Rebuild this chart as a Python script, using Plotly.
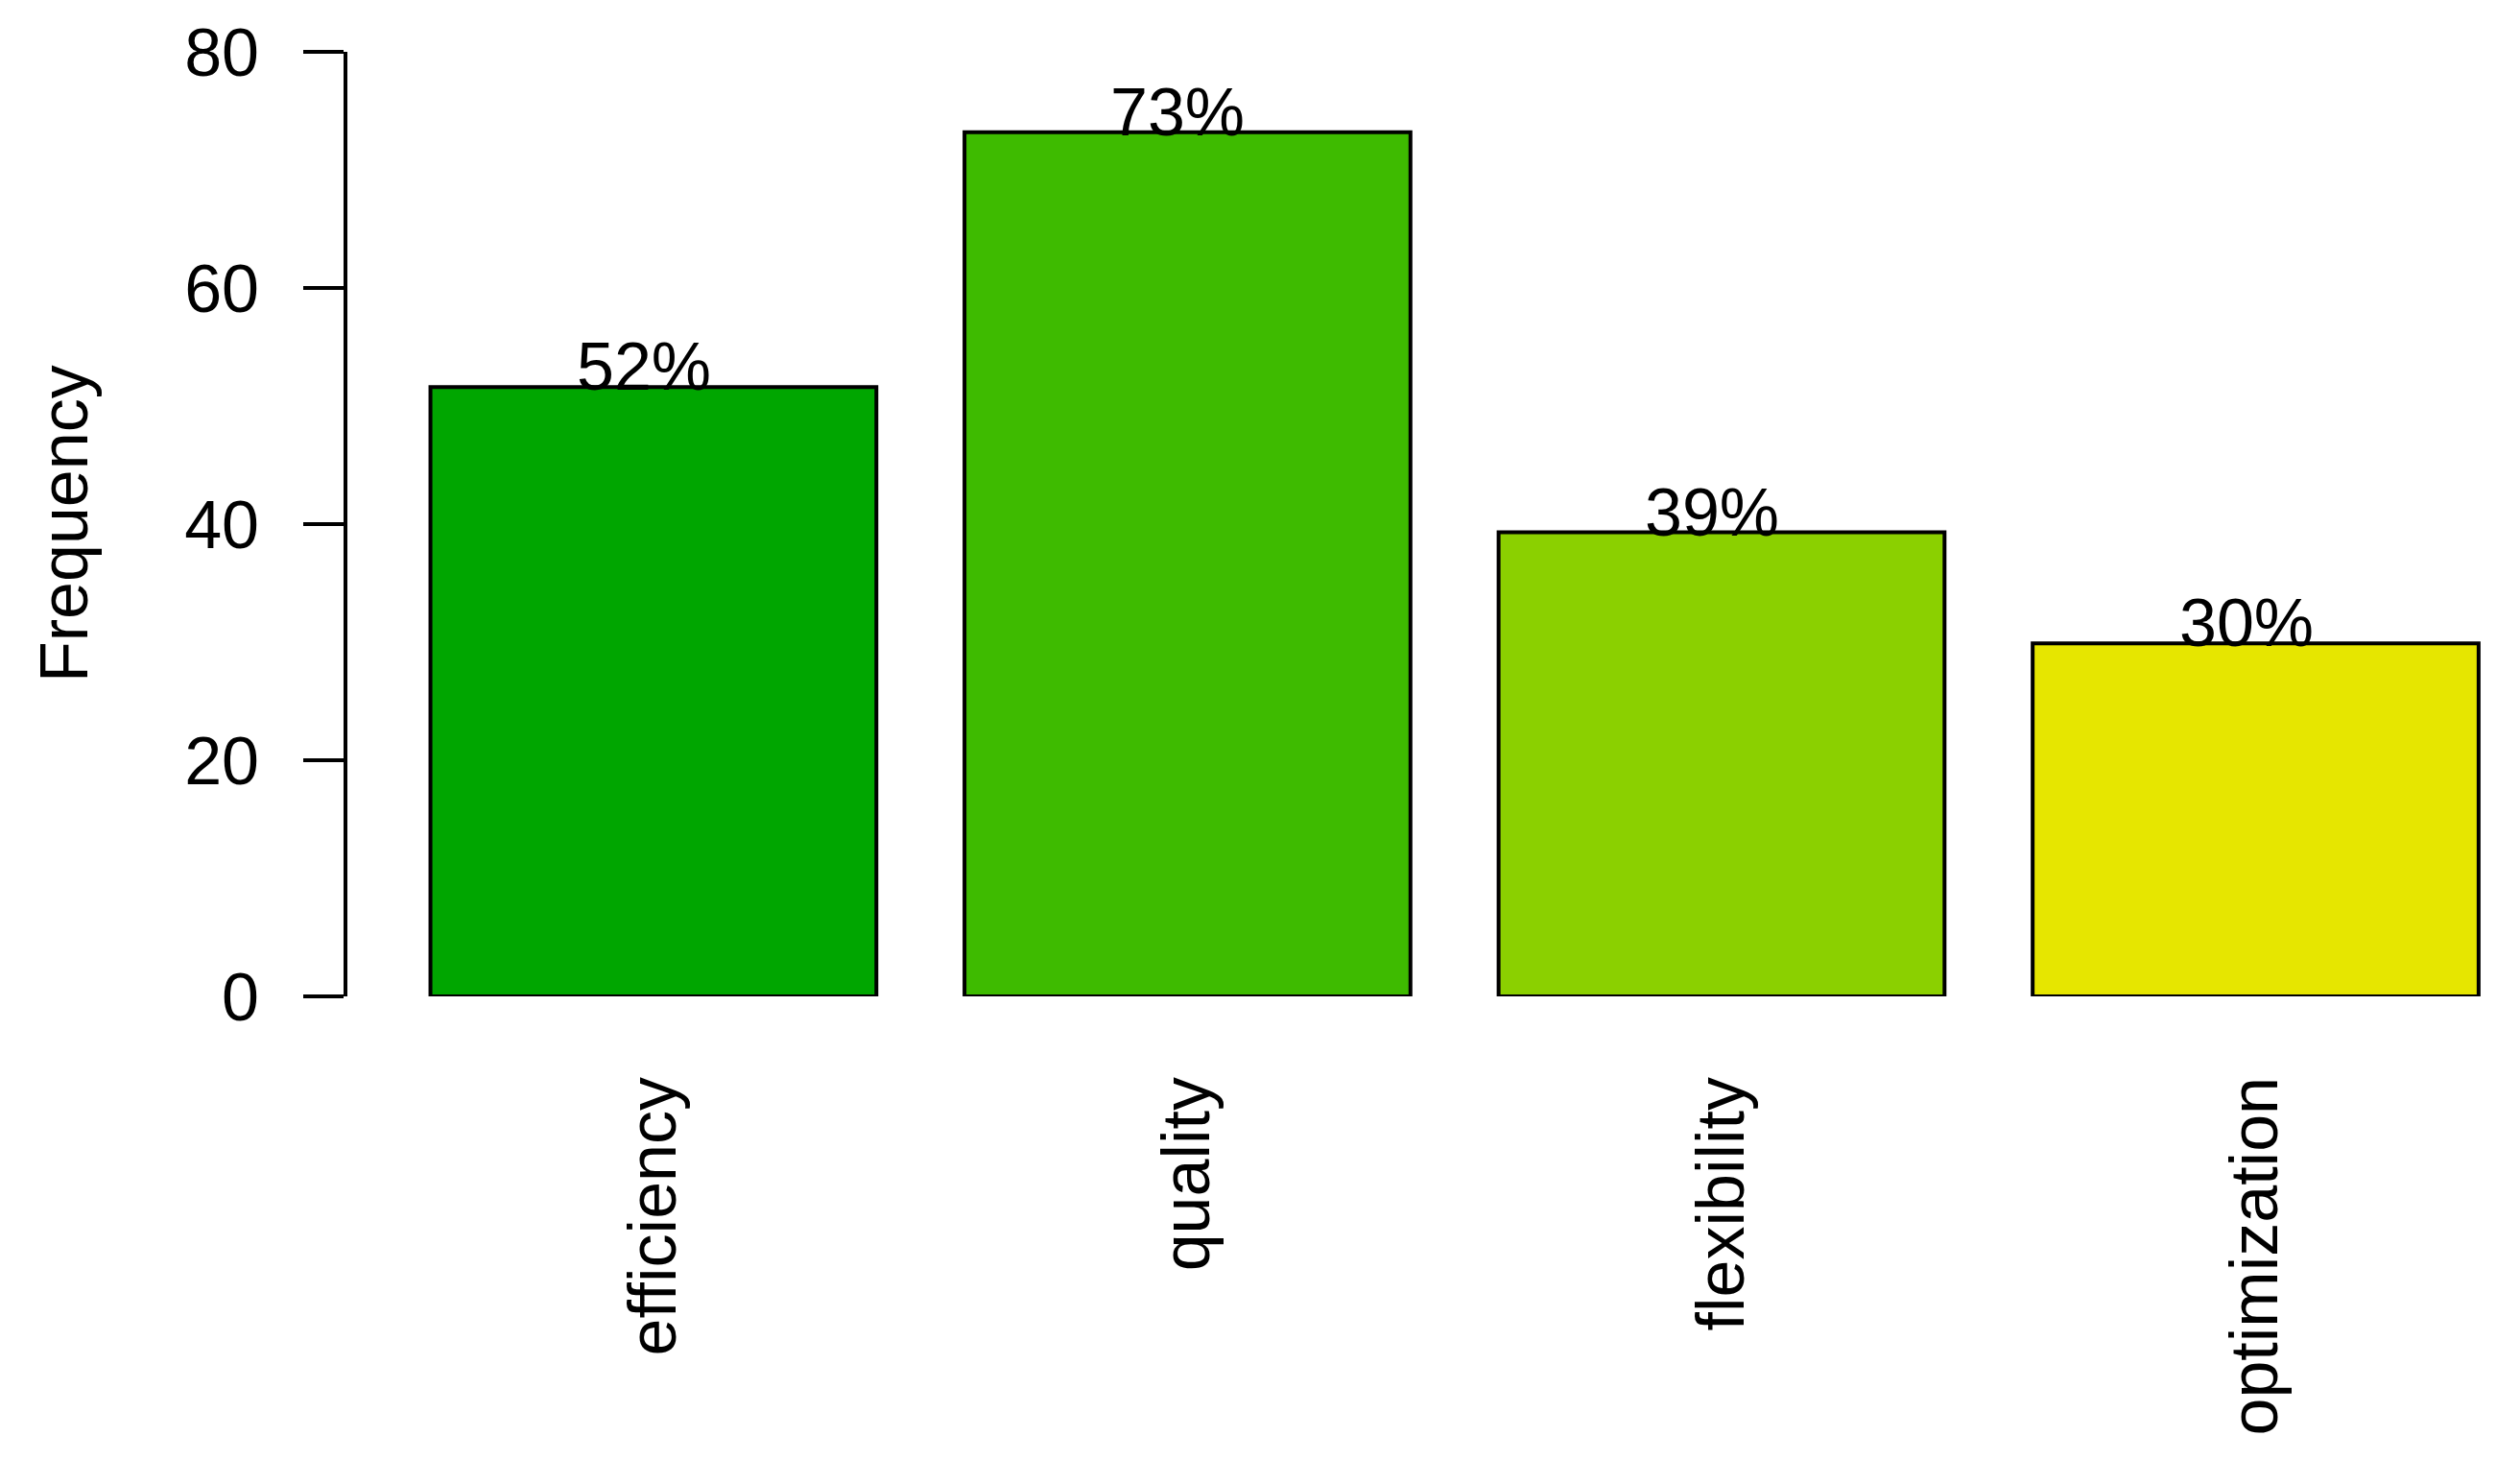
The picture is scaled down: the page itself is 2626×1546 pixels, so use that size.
import plotly.graph_objects as go

categories = ["efficiency", "quality", "flexibility", "optimization"]
frequency = [51.6, 73.2, 39.3, 29.9]
percent_labels = ["52%", "73%", "39%", "30%"]
bar_colors = ["#00A600", "#3EBB00", "#8BD000", "#E6E600"]
y_ticks = [0, 20, 40, 60, 80]

W, H = 2626, 1546
L, R, T, B = 362, 0, 54, 508
FONT = "Liberation Sans, Arial, sans-serif"
FS = 70

fig = go.Figure(
    go.Bar(
        x=categories,
        y=frequency,
        width=0.835,
        marker=dict(color=bar_colors, line=dict(color="black", width=4)),
        hoverinfo="skip",
    )
)

for c, v, t in zip(categories, frequency, percent_labels):
    fig.add_annotation(
        x=c, y=v, text=t, showarrow=False, xanchor="center", yanchor="bottom",
        yshift=-20, xshift=-10, font=dict(family=FONT, size=FS, color="black"),
    )

fig.add_annotation(
    xref="paper", yref="paper", x=(67 - L) / (W - L - R), y=0.5,
    text="Frequency", textangle=-90, showarrow=False,
    xanchor="center", yanchor="middle",
    font=dict(family=FONT, size=FS, color="black"),
)

fig.update_layout(
    width=W, height=H,
    margin=dict(l=L, r=R, t=T, b=B, pad=0),
    plot_bgcolor="white", paper_bgcolor="white",
    showlegend=False,
    font=dict(family=FONT, size=FS, color="black"),
)

fig.update_xaxes(
    range=[-0.573, 3.495],
    showline=False, showgrid=False, zeroline=False,
    ticks="", tickangle=-90, ticklabelstandoff=69,
    tickfont=dict(family=FONT, size=FS, color="black"),
)

fig.update_yaxes(
    range=[0, 80], tickvals=y_ticks,
    ticks="outside", ticklen=42, tickwidth=4, tickcolor="black",
    showline=True, linewidth=4, linecolor="black",
    showgrid=False, zeroline=False, ticklabelstandoff=32,
    tickfont=dict(family=FONT, size=FS, color="black"),
)

fig.write_html(
    "out.html",
    config={"displayModeBar": False},
    post_script="document.body.style.margin='0';document.body.style.overflow='hidden';",
)
